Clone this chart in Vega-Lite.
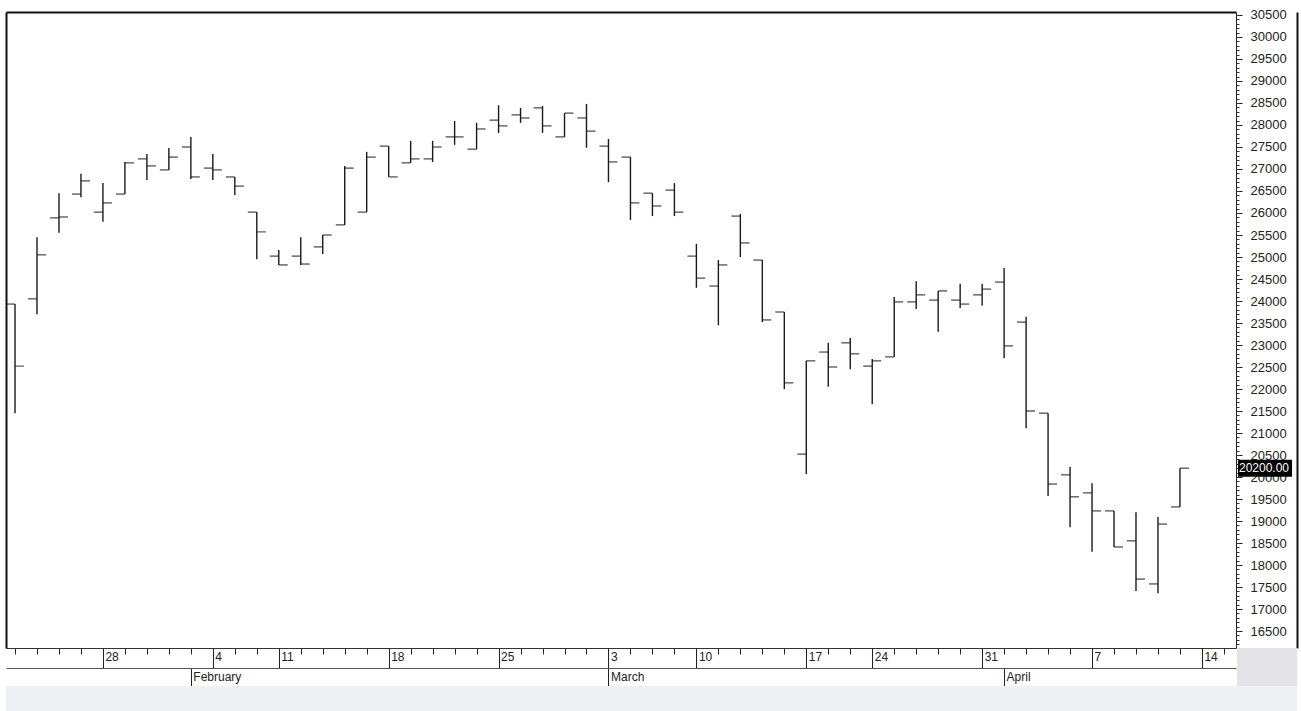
{
  "$schema": "https://vega.github.io/schema/vega-lite/v6.json",
  "autosize": {"type": "none"},
  "width": 1230,
  "height": 636,
  "padding": {"left": 6, "top": 12, "right": 65, "bottom": 63},
  "background": "white",
  "config": {
    "view": {"stroke": null},
    "font": "Liberation Sans",
    "scale": {"continuousPadding": 0},
    "axis": {"grid": false, "title": null, "labelFont": "Liberation Sans"}
  },
  "datasets": {
    "ohlc": [
      {"d": "2008-01-22", "i": 0, "o": 23930, "h": 23930, "l": 21450, "c": 22520},
      {"d": "2008-01-23", "i": 1, "o": 24050, "h": 25450, "l": 23700, "c": 25050},
      {"d": "2008-01-24", "i": 2, "o": 25890, "h": 26450, "l": 25550, "c": 25910},
      {"d": "2008-01-25", "i": 3, "o": 26430, "h": 26890, "l": 26360, "c": 26730},
      {"d": "2008-01-28", "i": 4, "o": 26020, "h": 26680, "l": 25800, "c": 26230},
      {"d": "2008-01-29", "i": 5, "o": 26430, "h": 27160, "l": 26430, "c": 27140},
      {"d": "2008-01-30", "i": 6, "o": 27230, "h": 27340, "l": 26750, "c": 27070},
      {"d": "2008-01-31", "i": 7, "o": 26980, "h": 27480, "l": 26980, "c": 27270},
      {"d": "2008-02-01", "i": 8, "o": 27500, "h": 27730, "l": 26770, "c": 26820},
      {"d": "2008-02-04", "i": 9, "o": 27020, "h": 27340, "l": 26750, "c": 26980},
      {"d": "2008-02-05", "i": 10, "o": 26820, "h": 26820, "l": 26410, "c": 26610},
      {"d": "2008-02-06", "i": 11, "o": 26020, "h": 26020, "l": 24950, "c": 25570},
      {"d": "2008-02-11", "i": 12, "o": 25020, "h": 25160, "l": 24820, "c": 24820},
      {"d": "2008-02-12", "i": 13, "o": 25020, "h": 25450, "l": 24820, "c": 24840},
      {"d": "2008-02-13", "i": 14, "o": 25230, "h": 25500, "l": 25070, "c": 25500},
      {"d": "2008-02-14", "i": 15, "o": 25730, "h": 27070, "l": 25730, "c": 27020},
      {"d": "2008-02-15", "i": 16, "o": 26020, "h": 27390, "l": 26020, "c": 27270},
      {"d": "2008-02-18", "i": 17, "o": 27520, "h": 27520, "l": 26820, "c": 26820},
      {"d": "2008-02-19", "i": 18, "o": 27140, "h": 27640, "l": 27140, "c": 27230},
      {"d": "2008-02-20", "i": 19, "o": 27230, "h": 27640, "l": 27160, "c": 27500},
      {"d": "2008-02-21", "i": 20, "o": 27730, "h": 28090, "l": 27550, "c": 27730},
      {"d": "2008-02-22", "i": 21, "o": 27450, "h": 28050, "l": 27450, "c": 27910},
      {"d": "2008-02-25", "i": 22, "o": 28110, "h": 28450, "l": 27820, "c": 27980},
      {"d": "2008-02-26", "i": 23, "o": 28230, "h": 28390, "l": 28050, "c": 28160},
      {"d": "2008-02-27", "i": 24, "o": 28390, "h": 28430, "l": 27820, "c": 27980},
      {"d": "2008-02-28", "i": 25, "o": 27730, "h": 28270, "l": 27730, "c": 28270},
      {"d": "2008-02-29", "i": 26, "o": 28160, "h": 28480, "l": 27480, "c": 27860},
      {"d": "2008-03-03", "i": 27, "o": 27520, "h": 27680, "l": 26700, "c": 27160},
      {"d": "2008-03-04", "i": 28, "o": 27270, "h": 27270, "l": 25840, "c": 26230},
      {"d": "2008-03-05", "i": 29, "o": 26450, "h": 26450, "l": 25930, "c": 26160},
      {"d": "2008-03-06", "i": 30, "o": 26520, "h": 26680, "l": 25930, "c": 26020},
      {"d": "2008-03-10", "i": 31, "o": 25020, "h": 25300, "l": 24300, "c": 24520},
      {"d": "2008-03-11", "i": 32, "o": 24340, "h": 24930, "l": 23450, "c": 24820},
      {"d": "2008-03-12", "i": 33, "o": 25930, "h": 25980, "l": 25000, "c": 25320},
      {"d": "2008-03-13", "i": 34, "o": 24930, "h": 24930, "l": 23520, "c": 23570},
      {"d": "2008-03-14", "i": 35, "o": 23750, "h": 23750, "l": 22000, "c": 22140},
      {"d": "2008-03-17", "i": 36, "o": 20520, "h": 22640, "l": 20070, "c": 22640},
      {"d": "2008-03-18", "i": 37, "o": 22840, "h": 23050, "l": 22050, "c": 22500},
      {"d": "2008-03-19", "i": 38, "o": 23050, "h": 23160, "l": 22450, "c": 22800},
      {"d": "2008-03-24", "i": 39, "o": 22520, "h": 22680, "l": 21660, "c": 22640},
      {"d": "2008-03-25", "i": 40, "o": 22730, "h": 24090, "l": 22730, "c": 23980},
      {"d": "2008-03-26", "i": 41, "o": 23980, "h": 24450, "l": 23820, "c": 24140},
      {"d": "2008-03-27", "i": 42, "o": 24020, "h": 24230, "l": 23300, "c": 24230},
      {"d": "2008-03-28", "i": 43, "o": 24020, "h": 24390, "l": 23840, "c": 23930},
      {"d": "2008-03-31", "i": 44, "o": 24140, "h": 24390, "l": 23890, "c": 24270},
      {"d": "2008-04-01", "i": 45, "o": 24430, "h": 24750, "l": 22700, "c": 22980},
      {"d": "2008-04-02", "i": 46, "o": 23520, "h": 23640, "l": 21110, "c": 21500},
      {"d": "2008-04-03", "i": 47, "o": 21450, "h": 21450, "l": 19570, "c": 19840},
      {"d": "2008-04-04", "i": 48, "o": 20050, "h": 20230, "l": 18860, "c": 19550},
      {"d": "2008-04-07", "i": 49, "o": 19640, "h": 19860, "l": 18300, "c": 19230},
      {"d": "2008-04-08", "i": 50, "o": 19230, "h": 19230, "l": 18410, "c": 18410},
      {"d": "2008-04-09", "i": 51, "o": 18550, "h": 19200, "l": 17410, "c": 17680},
      {"d": "2008-04-10", "i": 52, "o": 17570, "h": 19090, "l": 17360, "c": 18930},
      {"d": "2008-04-11", "i": 53, "o": 19320, "h": 20200, "l": 19320, "c": 20200}
    ],
    "last": [{"price": 20200, "label": "20200.00"}],
    "blank": [{"k": 1}]
  },
  "resolve": {
    "scale": {"x": "shared", "y": "shared"},
    "axis": {"x": "independent", "y": "independent"}
  },
  "layer": [
    {
      "data": {"name": "blank"},
      "mark": {"type": "rect", "color": "#e3e3e7"},
      "encoding": {
        "x": {"datum": 55.6, "type": "quantitative", "scale": {"domain": [-0.41, 55.55], "nice": false, "zero": false, "padding": 0},
          "axis": {"orient": "bottom", "offset": 38, "domain": true, "domainColor": "#c4c4c8", "ticks": false, "labels": false}},
        "x2": {"datum": 58.33},
        "y": {"datum": 16114, "type": "quantitative", "scale": {"domain": [16114, 30568], "nice": false, "zero": false, "padding": 0},
          "axis": {"orient": "left", "domain": true, "domainWidth": 2, "domainColor": "#111", "ticks": false, "labels": false}},
        "y2": {"datum": 15250}
      }
    },
    {
      "data": {"name": "blank"},
      "mark": {"type": "rect", "color": "#eff0f3"},
      "encoding": {
        "x": {"datum": -0.41, "type": "quantitative", "scale": {"domain": [-0.41, 55.55], "nice": false, "zero": false, "padding": 0},
          "axis": {"orient": "top", "domain": true, "domainWidth": 2, "domainColor": "#111", "ticks": false, "labels": false}},
        "x2": {"datum": 58.33},
        "y": {"datum": 15250, "type": "quantitative", "scale": {"domain": [16114, 30568], "nice": false, "zero": false, "padding": 0},
          "axis": {"orient": "right", "offset": 61, "domain": true, "domainWidth": 2, "domainColor": "#111", "ticks": false, "labels": false}},
        "y2": {"datum": 14600}
      }
    },
    {
      "data": {"name": "ohlc"},
      "mark": {"type": "rule", "color": "#1a1a1a", "strokeWidth": 1.4},
      "encoding": {
        "x": {"field": "i", "type": "quantitative", "scale": {"domain": [-0.41, 55.55], "nice": false, "zero": false, "padding": 0},
          "axis": {"orient": "bottom", "values": [0,1,2,3,4,5,6,7,8,9,10,11,12,13,14,15,16,17,18,19,20,21,22,23,24,25,26,27,28,29,30,31,32,33,34,35,36,37,38,39,40,41,42,43,44,45,46,47,48,49,50,51,52,53,54,55],
            "labels": false, "ticks": true, "tickSize": 6, "tickColor": "#222", "domain": true, "domainColor": "#333"}},
        "y": {"field": "l", "type": "quantitative", "scale": {"domain": [16114, 30568], "nice": false, "zero": false, "padding": 0},
          "axis": {"orient": "right", "values": [16500,17000,17500,18000,18500,19000,19500,20000,20500,21000,21500,22000,22500,23000,23500,24000,24500,25000,25500,26000,26500,27000,27500,28000,28500,29000,29500,30000,30500],
            "format": "d", "tickSize": 6, "tickColor": "#222", "domain": true, "domainColor": "#222", "labelPadding": 8, "labelFontSize": 13, "labelColor": "#222"}},
        "y2": {"field": "h"}
      }
    },
    {
      "data": {"name": "ohlc"},
      "mark": {"type": "tick", "orient": "horizontal", "size": 9, "thickness": 1.4, "xOffset": -4.5, "color": "#1a1a1a"},
      "encoding": {
        "x": {"field": "i", "type": "quantitative", "scale": {"domain": [-0.41, 55.55], "nice": false, "zero": false, "padding": 0},
          "axis": {"orient": "bottom", "values": [4, 9, 12, 17, 22, 27, 31, 36, 39, 44, 49, 54],
            "labelExpr": "datum.value==4?'28':datum.value==9?'4':datum.value==12?'11':datum.value==17?'18':datum.value==22?'25':datum.value==27?'3':datum.value==31?'10':datum.value==36?'17':datum.value==39?'24':datum.value==44?'31':datum.value==49?'7':'14'",
            "tickSize": 20, "tickColor": "#222", "domain": false, "labelPadding": -17, "labelAlign": "left", "labelBaseline": "top", "labelOffset": 2, "labelFontSize": 12, "labelColor": "#222", "labelFlush": false, "labelOverlap": false}},
        "y": {"field": "o", "type": "quantitative", "scale": {"domain": [16114, 30568], "nice": false, "zero": false, "padding": 0},
          "axis": {"orient": "right", "values": [16200,16300,16400,16500,16600,16700,16800,16900,17000,17100,17200,17300,17400,17500,17600,17700,17800,17900,18000,18100,18200,18300,18400,18500,18600,18700,18800,18900,19000,19100,19200,19300,19400,19500,19600,19700,19800,19900,20000,20100,20200,20300,20400,20500,20600,20700,20800,20900,21000,21100,21200,21300,21400,21500,21600,21700,21800,21900,22000,22100,22200,22300,22400,22500,22600,22700,22800,22900,23000,23100,23200,23300,23400,23500,23600,23700,23800,23900,24000,24100,24200,24300,24400,24500,24600,24700,24800,24900,25000,25100,25200,25300,25400,25500,25600,25700,25800,25900,26000,26100,26200,26300,26400,26500,26600,26700,26800,26900,27000,27100,27200,27300,27400,27500,27600,27700,27800,27900,28000,28100,28200,28300,28400,28500,28600,28700,28800,28900,29000,29100,29200,29300,29400,29500,29600,29700,29800,29900,30000,30100,30200,30300,30400,30500],
            "labels": false, "tickSize": 3, "tickColor": "#333", "domain": false}}
      }
    },
    {
      "data": {"name": "ohlc"},
      "mark": {"type": "tick", "orient": "horizontal", "size": 9, "thickness": 1.4, "xOffset": 4.5, "color": "#1a1a1a"},
      "encoding": {
        "x": {"field": "i", "type": "quantitative", "scale": {"domain": [-0.41, 55.55], "nice": false, "zero": false, "padding": 0},
          "axis": {"orient": "bottom", "offset": 20, "values": [8, 27, 45],
            "labelExpr": "datum.value==8?'February':datum.value==27?'March':'April'",
            "tickSize": 18, "tickColor": "#222", "domain": true, "domainColor": "#555", "labelPadding": -15, "labelAlign": "left", "labelBaseline": "top", "labelOffset": 2, "labelFontSize": 12, "labelColor": "#222", "labelFlush": false, "labelOverlap": false}},
        "y": {"field": "c", "type": "quantitative", "scale": {"domain": [16114, 30568], "nice": false, "zero": false, "padding": 0}, "axis": null}
      }
    },
    {
      "data": {"name": "last"},
      "mark": {"type": "bar", "color": "#000", "height": 17},
      "encoding": {
        "x": {"datum": 55.64, "type": "quantitative", "scale": {"domain": [-0.41, 55.55], "nice": false, "zero": false, "padding": 0}, "axis": null},
        "x2": {"datum": 58.1},
        "y": {"field": "price", "type": "quantitative", "scale": {"domain": [16114, 30568], "nice": false, "zero": false, "padding": 0}, "axis": null}
      }
    },
    {
      "data": {"name": "last"},
      "mark": {"type": "text", "color": "#fff", "align": "left", "baseline": "middle", "dx": 1, "fontSize": 12, "font": "Liberation Sans"},
      "encoding": {
        "x": {"datum": 55.64, "type": "quantitative", "scale": {"domain": [-0.41, 55.55], "nice": false, "zero": false, "padding": 0}, "axis": null},
        "y": {"field": "price", "type": "quantitative", "scale": {"domain": [16114, 30568], "nice": false, "zero": false, "padding": 0}, "axis": null},
        "text": {"field": "label"}
      }
    }
  ]
}
